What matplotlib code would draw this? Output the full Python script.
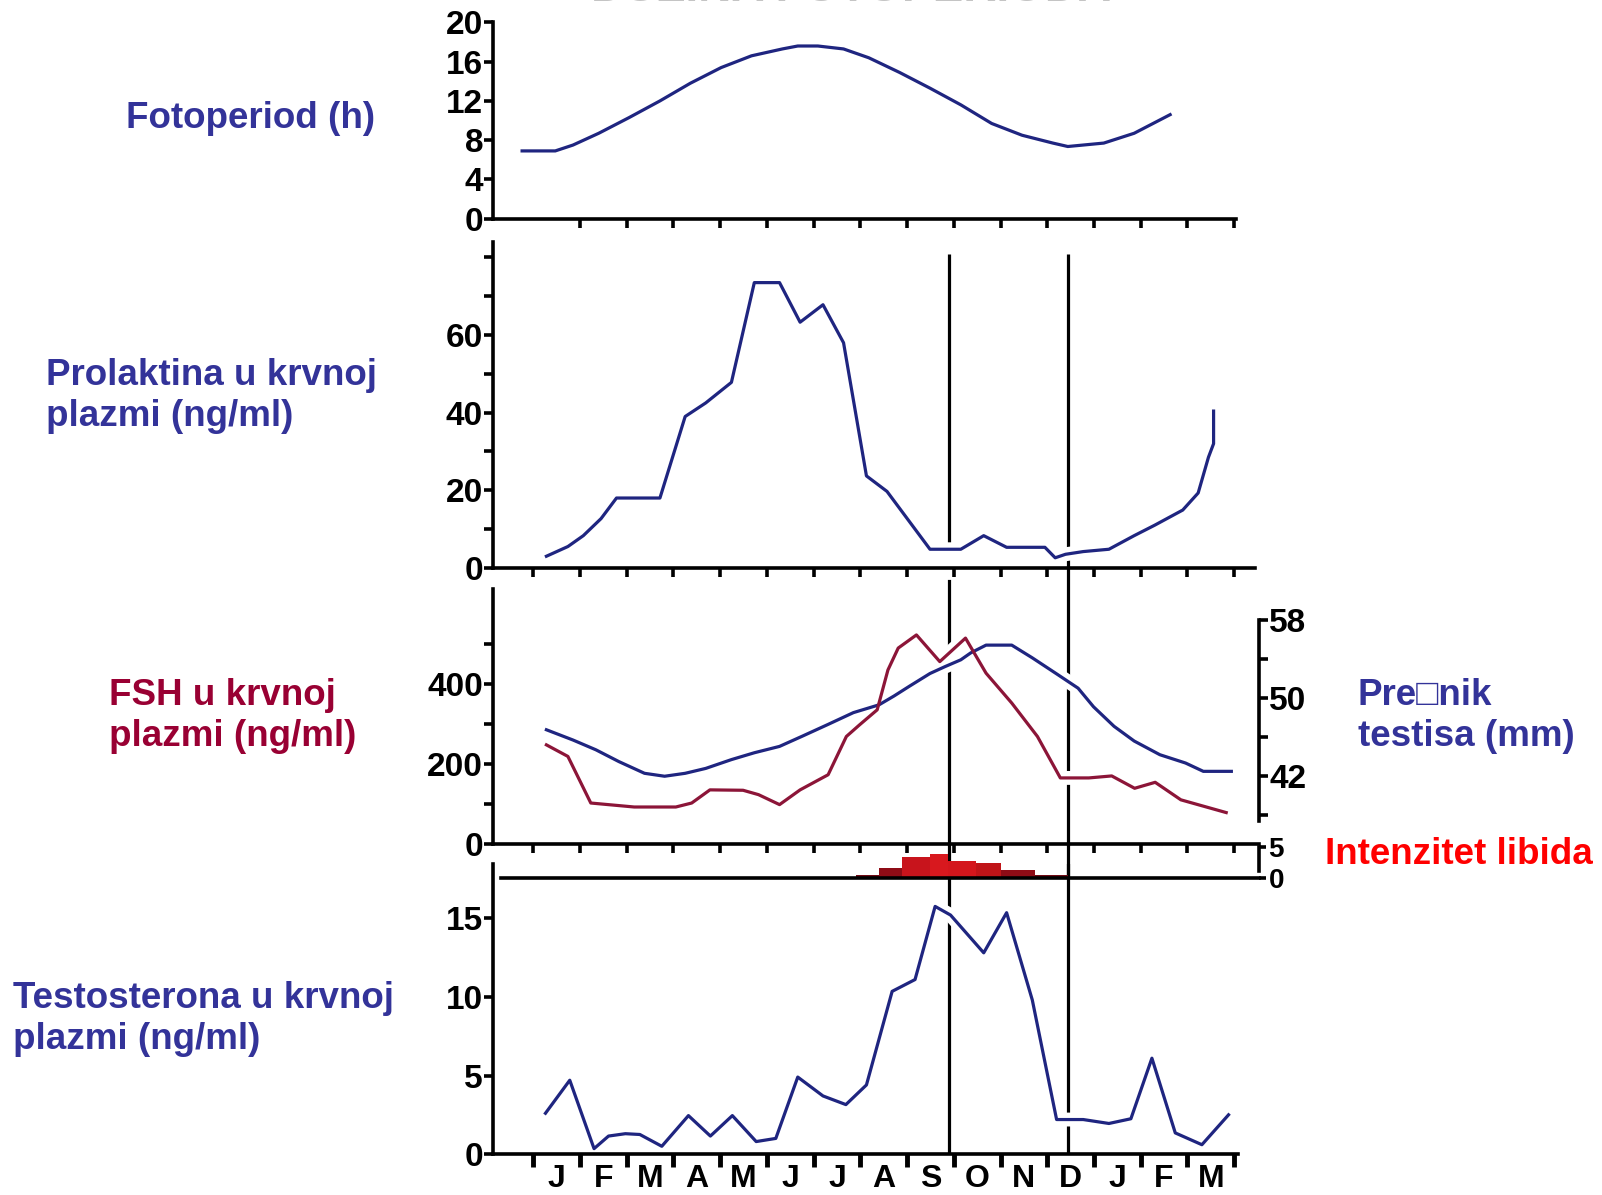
import numpy as np
import matplotlib.pyplot as plt

plt.rcParams['font.family'] = ['Liberation Sans', 'DejaVu Sans']
plt.rcParams['font.weight'] = 'bold'

# x in month units: 0 = start of the first J, 1 = start of F, ...
months = ['J', 'F', 'M', 'A', 'M', 'J', 'J', 'A', 'S', 'O', 'N', 'D', 'J', 'F', 'M']
markers = [8.9, 11.44]

foto_x = [-0.24, 0.47, 0.85, 1.40, 2.05, 2.71, 3.36, 4.02, 4.67, 5.33, 5.66, 6.09, 6.64,
          7.18, 7.84, 8.49, 9.15, 9.81, 10.46, 11.12, 11.44, 11.77, 12.21, 12.86, 13.63]
foto_y = [6.9, 6.9, 7.5, 8.7, 10.3, 12.0, 13.8, 15.4, 16.6, 17.3, 17.6, 17.6, 17.3,
          16.4, 14.9, 13.3, 11.6, 9.7, 8.5, 7.7, 7.35, 7.5, 7.7, 8.7, 10.6]

prl_x = [0.28, 0.74, 1.07, 1.45, 1.78, 2.71, 2.98, 3.25, 3.69, 4.24, 4.73, 5.27, 5.71,
         6.20, 6.64, 7.13, 7.57, 8.49, 9.15, 9.64, 10.13, 10.95, 11.17, 11.39, 11.77,
         12.32, 12.86, 13.30, 13.90, 14.23, 14.45, 14.56, 14.56]
prl_y = [3, 5.5, 8.3, 12.7, 18, 18, 28.5, 39, 42.5, 47.8, 73.5, 73.5, 63.3,
         67.8, 58, 23.7, 19.7, 4.8, 4.8, 8.3, 5.3, 5.3, 2.6, 3.5, 4.2,
         4.8, 8.3, 11, 14.9, 19.3, 28.5, 32, 40.4]

fsh_x = [0.28, 0.74, 1.23, 2.16, 3.05, 3.39, 3.78, 4.49, 4.82, 5.27, 5.71, 6.31, 6.70,
         6.98, 7.36, 7.59, 7.81, 8.20, 8.70, 9.25, 9.69, 10.24, 10.79, 11.28, 11.89,
         12.38, 12.87, 13.31, 13.86, 14.83]
fsh_y = [248, 219, 102, 92, 92, 102, 135, 134, 123, 98, 135, 173, 269,
         298, 336, 436, 491, 524, 457, 516, 428, 353, 269, 165, 165,
         170, 139, 154, 110, 78]

testis_x = [0.28, 0.85, 1.34, 1.83, 2.38, 2.81, 3.25, 3.69, 4.24, 4.73, 5.27, 5.76, 6.31,
            6.85, 7.40, 7.72, 8.05, 8.49, 8.81, 9.15, 9.36, 9.69, 10.24, 10.68, 11.22,
            11.66, 11.99, 12.43, 12.86, 13.41, 13.96, 14.34, 14.94]
testis_y = [46.75, 45.7, 44.7, 43.5, 42.3, 42.0, 42.3, 42.8, 43.7, 44.4, 45.05, 46.1, 47.3,
            48.5, 49.3, 50.2, 51.2, 52.5, 53.2, 53.9, 54.6, 55.4, 55.4, 54.1, 52.4,
            51.0, 49.1, 47.1, 45.6, 44.2, 43.35, 42.5, 42.5]

libido_edges = [6.9, 7.4, 7.9, 8.5, 8.88, 9.47, 10.0, 10.74, 11.44]
libido_h = [0.55, 1.7, 3.4, 3.9, 2.8, 2.5, 1.3, 0.55]

testo_x = [0.26, 0.78, 1.30, 1.61, 1.97, 2.28, 2.75, 3.32, 3.79, 4.26, 4.77, 5.19, 5.66,
           6.20, 6.69, 7.13, 7.68, 8.17, 8.60, 8.93, 9.64, 10.13, 10.68, 11.20, 11.77,
           12.32, 12.79, 13.24, 13.74, 14.31, 14.88]
testo_y = [2.6, 4.7, 0.35, 1.15, 1.3, 1.25, 0.5, 2.45, 1.15, 2.45, 0.8, 1.0, 4.9,
           3.7, 3.15, 4.4, 10.35, 11.1, 15.75, 15.2, 12.8, 15.35, 9.8, 2.2, 2.2,
           1.95, 2.25, 6.1, 1.35, 0.6, 2.5]

NAVY = '#1f2580'
MAROON = '#8c1538'
LABEL_BLUE = '#333399'
LABEL_RED = '#990033'
bar_colors = ['#6e0a14', '#8e0c16', '#c8141c', '#d8181e', '#d4161c', '#c01418', '#8e0c16', '#6e0a14']

W, H = 1568.0, 1170.0   # layout measured on the reference


def box(l, r, t, b):
    return [l / W, 1 - b / H, (r - l) / W, (b - t) / H]


def mx(px):
    return (px - 522) / 45.73


def style(ax, yticks, ylabels, xticks):
    for s in ['top', 'right']:
        ax.spines[s].set_visible(False)
    for s in ['left', 'bottom']:
        ax.spines[s].set_linewidth(2.6)
    ax.set_xticks(xticks)
    ax.set_xticklabels([])
    ax.set_yticks(yticks)
    ax.set_yticklabels(ylabels)
    ax.tick_params(direction='out', length=6.5, width=2.6, labelsize=24, pad=1)
    ax.patch.set_visible(False)


def curve(ax, x, y, color, transform=None):
    tr = transform if transform is not None else ax.transData
    ax.plot(x, y, color='white', lw=10, zorder=2, solid_capstyle='butt', transform=tr)
    ax.plot(x, y, color=color, lw=2.3, zorder=3, transform=tr)


fig = plt.figure(figsize=(16.02, 11.95), dpi=100)
ticks = np.arange(16)

# photoperiod
ax1 = fig.add_axes(box(483, 1210, 22, 214))
ax1.set_xlim(mx(483), mx(1210))
ax1.set_ylim(0, 20)
style(ax1, np.arange(0, 21, 4), [str(v) for v in range(0, 21, 4)], ticks[1:])
curve(ax1, foto_x, foto_y, NAVY)

# prolactin
ax2 = fig.add_axes(box(483, 1228, 237, 556))
ax2.set_xlim(mx(483), mx(1228))
ax2.set_ylim(0, (556 - 237) / 3.8)
style(ax2, np.arange(0, 81, 10), ['0', '', '20', '', '40', '', '60', '', ''], ticks)
curve(ax2, prl_x, prl_y, NAVY)
ax2.vlines(markers[0], 4, 81, color='black', lw=2.3, zorder=1)
ax2.vlines(markers[1], 0, 81, color='black', lw=2.3, zorder=1)

# FSH + testis diameter
ax3 = fig.add_axes(box(483, 1232, 577, 826))
ax3.set_xlim(mx(483), mx(1232))
ax3.set_ylim(0, (826 - 577) / 0.39)
style(ax3, np.arange(0, 501, 100), ['0', '', '200', '', '400', ''], ticks)
ax3r = ax3.twinx()
ax3r.set_ylim(42 - (826 - 760) / 9.58, 42 + (760 - 577) / 9.58)
for s in ['top', 'left', 'bottom']:
    ax3r.spines[s].set_visible(False)
ax3r.spines['right'].set_linewidth(2.6)
ax3r.spines['right'].set_bounds(37.4, 58)
ax3r.set_yticks(np.arange(38, 59, 4))
ax3r.set_yticklabels(['', '42', '', '50', '', '58'])
ax3r.tick_params(direction='out', length=6.5, width=2.6, labelsize=24, pad=1)
curve(ax3, testis_x, testis_y, NAVY, transform=ax3r.transData)
curve(ax3, fsh_x, fsh_y, MAROON)
ax3.axvline(markers[0], 0, 1 + 8 / 249, color='black', lw=2.3, zorder=1, clip_on=False)
ax3.axvline(markers[1], 0, 1 + 21 / 249, color='black', lw=2.3, zorder=1, clip_on=False)

# testosterone
ax5 = fig.add_axes(box(483, 1212, 846, 1130))
ax5.set_xlim(mx(483), mx(1212))
ax5.set_ylim(0, (1130 - 846) / 15.4)
style(ax5, [0, 5, 10, 15], ['0', '5', '10', '15'], ticks)
ax5.set_xticks(np.arange(len(months)) + 0.5, minor=True)
ax5.set_xticklabels(months, minor=True)
ax5.tick_params(axis='x', which='minor', length=0, pad=7, labelsize=23)
ax5.tick_params(axis='x', which='major', length=9, width=3.5)
curve(ax5, testo_x, testo_y, NAVY)
for m in markers:
    ax5.axvline(m, color='black', lw=2.3, zorder=1)

# libido
ax4 = fig.add_axes(box(483, 1232, 826, 860))
ax4.set_xlim(mx(483), mx(1232))
ax4.set_ylim(0, 34 / 6.2)
ax4.patch.set_visible(False)
for s in ['top', 'left']:
    ax4.spines[s].set_visible(False)
ax4.spines['bottom'].set_linewidth(2.6)
ax4.spines['bottom'].set_bounds(mx(490), mx(1232))
ax4.spines['right'].set_linewidth(2.6)
ax4.spines['right'].set_bounds(1.1, 5)
ax4.set_xticks([])
ax4.yaxis.tick_right()
ax4.set_yticks([0, 5])
ax4.set_yticklabels(['0', '5'])
ax4.tick_params(axis='y', direction='out', length=5, width=2.6, labelsize=20, pad=2)
ax4.bar(libido_edges[:-1], libido_h, width=np.diff(libido_edges), align='edge',
        color=bar_colors, linewidth=0, zorder=2)
for m in markers:
    ax4.axvline(m, color='black', lw=2.3, zorder=1)

# labels
lab = dict(fontsize=26.5, fontweight='bold', ha='left', va='center', linespacing=1.22)
fig.text(123 / W, 1 - 116 / H, 'Fotoperiod (h)', color=LABEL_BLUE, **lab)
fig.text(45 / W, 1 - 388 / H, 'Prolaktina u krvnoj\nplazmi (ng/ml)', color=LABEL_BLUE, **lab)
fig.text(107 / W, 1 - 701 / H, 'FSH u krvnoj\nplazmi (ng/ml)', color=LABEL_RED, **lab)
fig.text(13 / W, 1 - 998 / H, 'Testosterona u krvnoj\nplazmi (ng/ml)', color=LABEL_BLUE, **lab)
fig.text(1329 / W, 1 - 701 / H, 'Pre\u25a1nik\ntestisa (mm)', color=LABEL_BLUE, **lab)
fig.text(1297 / W, 1 - 837 / H, 'Intenzitet libida', color='#ff0000', **lab)
fig.text(833 / W, 1 - 0.5 / H, 'DUŽINA FOTOPERIODA', color='#c4c4c4', fontsize=33,
         fontweight='bold', ha='center', va='baseline')

fig.savefig('out.png', dpi=100)
